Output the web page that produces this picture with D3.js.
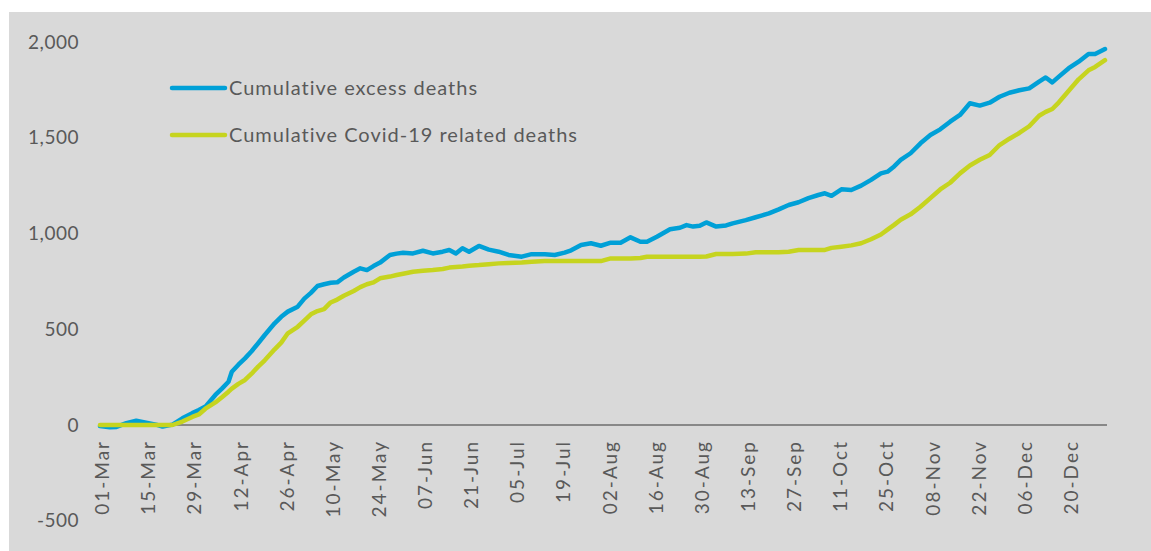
<!DOCTYPE html>
<html>
<head>
<meta charset="utf-8">
<script src="https://cdn.jsdelivr.net/npm/d3@7"></script>
<style>
  html, body { margin: 0; padding: 0; background: #ffffff; }
  svg { display: block; font-family: Lato, "Open Sans", sans-serif; }
</style>
</head>
<body>
<script>
// sample dates (2020) and the two cumulative series
const dates = ["01-Mar","04-Mar","06-Mar","09-Mar","12-Mar","15-Mar","18-Mar","20-Mar","23-Mar","26-Mar",
  "29-Mar","31-Mar","02-Apr","05-Apr","07-Apr","09-Apr","10-Apr","12-Apr","14-Apr","16-Apr",
  "18-Apr","20-Apr","23-Apr","25-Apr","27-Apr","30-Apr","02-May","04-May","06-May","08-May",
  "10-May","12-May","14-May","17-May","19-May","21-May","23-May","25-May","28-May","30-May",
  "01-Jun","04-Jun","07-Jun","10-Jun","13-Jun","15-Jun","17-Jun","19-Jun","21-Jun","24-Jun",
  "27-Jun","30-Jun","03-Jul","07-Jul","10-Jul","14-Jul","17-Jul","20-Jul","22-Jul","25-Jul",
  "28-Jul","31-Jul","03-Aug","06-Aug","09-Aug","12-Aug","14-Aug","17-Aug","21-Aug","24-Aug",
  "26-Aug","28-Aug","30-Aug","01-Sep","04-Sep","07-Sep","09-Sep","13-Sep","16-Sep","18-Sep",
  "20-Sep","23-Sep","26-Sep","29-Sep","02-Oct","05-Oct","07-Oct","09-Oct","12-Oct","15-Oct",
  "18-Oct","21-Oct","24-Oct","26-Oct","28-Oct","30-Oct","02-Nov","05-Nov","08-Nov","11-Nov",
  "14-Nov","17-Nov","20-Nov","23-Nov","26-Nov","29-Nov","02-Dec","05-Dec","08-Dec","11-Dec",
  "13-Dec","15-Dec","17-Dec","20-Dec","23-Dec","26-Dec","28-Dec","31-Dec"];

const excessDeaths = [-5,-12,-10,10,22,12,2,-8,2,35,
  62,78,96,157,190,226,278,315,348,385,
  427,470,531,565,592,618,660,690,726,735,
  743,745,770,800,818,809,830,848,888,895,
  900,896,910,896,905,914,896,923,905,935,
  916,905,888,879,892,892,888,900,912,940,
  949,936,952,952,980,957,957,983,1022,1030,
  1044,1036,1040,1058,1036,1042,1053,1070,1085,1095,
  1105,1126,1149,1163,1185,1201,1210,1197,1231,1227,
  1250,1280,1314,1323,1350,1384,1419,1471,1514,1544,
  1584,1619,1680,1668,1683,1714,1735,1748,1758,1793,
  1815,1789,1819,1863,1897,1937,1937,1963];

const covidDeaths = [0,0,0,0,0,0,0,0,0,18,
  42,55,85,118,145,174,190,215,235,268,
  305,338,395,430,479,513,545,578,595,605,
  640,655,675,700,720,735,745,766,775,783,
  790,800,805,809,815,822,825,828,832,835,
  840,844,846,848,852,856,856,856,856,856,
  856,856,870,870,870,872,879,879,879,879,
  879,879,879,880,893,893,893,895,902,902,
  902,902,905,914,914,914,914,925,931,938,
  949,970,995,1020,1045,1072,1100,1140,1185,1230,
  1265,1314,1355,1385,1410,1462,1495,1525,1560,1615,
  1635,1650,1685,1745,1805,1852,1870,1905];

const tickLabels = ["01-Mar","15-Mar","29-Mar","12-Apr","26-Apr","10-May","24-May","07-Jun","21-Jun",
  "05-Jul","19-Jul","02-Aug","16-Aug","30-Aug","13-Sep","27-Sep","11-Oct","25-Oct","08-Nov",
  "22-Nov","06-Dec","20-Dec"];
const yTicks = [-500, 0, 500, 1000, 1500, 2000];
const seriesNames = ["Cumulative excess deaths", "Cumulative Covid-19 related deaths"];
const seriesColors = ["#00a0d7", "#c6d41f"];

const width = 1151, height = 551;
const parse = s => d3.timeParse("%d-%b-%Y")(s + "-2020");

const svg = d3.select("body").append("svg")
  .attr("width", width)
  .attr("height", height);

// grey chart area
svg.append("rect")
  .attr("x", 9).attr("y", 12)
  .attr("width", width - 9).attr("height", height - 12)
  .attr("fill", "#d9d9d9");

const x = d3.scaleTime()
  .domain([parse("01-Mar"), parse("31-Dec")])
  .range([100, 1105]);

const y = d3.scaleLinear()
  .domain([-500, 2000])
  .range([520.75, 42]);

// y labels, no axis line
svg.append("g")
  .selectAll("text")
  .data(yTicks)
  .join("text")
  .attr("x", 79)
  .attr("y", d => y(d))
  .attr("dy", "0.35em")
  .attr("text-anchor", "end")
  .attr("fill", "#595959")
  .style("font-size", "19px")
  .style("letter-spacing", "0.5px")
  .text(d => d3.format(",")(d).replace("−", "-"));

// x axis at zero
const xAxis = d3.axisBottom(x)
  .tickValues(tickLabels.map(parse))
  .tickSize(0)
  .tickFormat(d3.timeFormat("%d-%b"));

const gx = svg.append("g")
  .attr("transform", `translate(0,${y(0)})`)
  .call(xAxis);

gx.select(".domain")
  .attr("d", `M${x.range()[0]},0H${x.range()[1] + 2}`)
  .attr("stroke", "#888888")
  .attr("stroke-width", 2);

gx.selectAll(".tick text")
  .attr("fill", "#595959")
  .style("font-size", "19px")
  .style("font-family", "Lato, sans-serif")
  .style("letter-spacing", "2px")
  .attr("text-anchor", "end")
  .attr("transform", "rotate(-90)")
  .attr("x", -15)
  .attr("y", 2)
  .attr("dy", "0.35em");

// lines
const series = [excessDeaths, covidDeaths];
const line = d3.line()
  .x((d, i) => x(parse(dates[i])))
  .y(d => y(d));

svg.append("g")
  .selectAll("path")
  .data(series)
  .join("path")
  .attr("d", line)
  .attr("fill", "none")
  .attr("stroke", (d, i) => seriesColors[i])
  .attr("stroke-width", 4.5)
  .attr("stroke-linejoin", "round")
  .attr("stroke-linecap", "round");

// legend
const legend = svg.append("g")
  .selectAll("g")
  .data(seriesNames)
  .join("g")
  .attr("transform", (d, i) => `translate(172,${88 + i * 47})`);

legend.append("line")
  .attr("x1", 0).attr("x2", 53)
  .attr("stroke", (d, i) => seriesColors[i])
  .attr("stroke-width", 4.5)
  .attr("stroke-linecap", "round");

legend.append("text")
  .attr("x", 57)
  .attr("dy", "0.35em")
  .attr("fill", "#595959")
  .style("font-size", "20px")
  .style("letter-spacing", "1px")
  .text(d => d);
</script>
</body>
</html>
